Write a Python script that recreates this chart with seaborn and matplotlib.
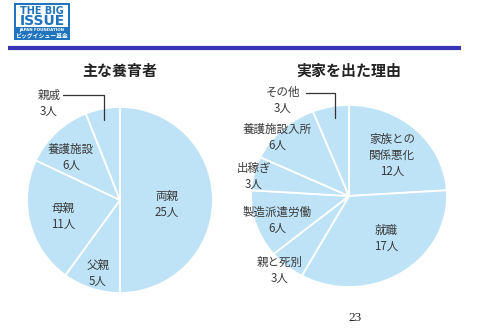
import matplotlib
matplotlib.use("Agg")
import matplotlib.pyplot as plt
import seaborn as sns
from matplotlib.patches import Rectangle

sns.set_theme(style="white")
plt.rcParams['font.family'] = ['Noto Sans CJK JP', 'DejaVu Sans']

# ---- data ----
left_title = "主な養育者"
left_labels = ["両親", "父親", "母親", "養護施設", "親戚"]
left_values = [25, 5, 11, 6, 3]

right_title = "実家を出た理由"
right_labels = ["家族との\n関係悪化", "就職", "親と死別", "製造派遣労働", "出稼ぎ", "養護施設入所", "その他"]
right_values = [12, 17, 3, 6, 3, 6, 3]

page_number = "23"

# ---- layout (pixels) ----
W, H = 480, 335
pie_color = "#BEE3F7"
text_color = "#3a3a3a"

left_label_pos = [(167, 204), (98, 273), (63, 216), (71, 157), (49, 103)]
right_label_pos = [(392, 155), (386, 238), (280, 270), (277, 220), (254, 176), (277, 137), (283, 100)]

fig = plt.figure(figsize=(W / 100, H / 100), dpi=100)
fig.patch.set_facecolor("white")


def pie_axes(cx, cy, rx, ry):
    return fig.add_axes([(cx - rx) / W, (H - (cy + ry)) / H, 2 * rx / W, 2 * ry / H])


def draw_pie(ax, values):
    ax.pie(values, startangle=90, counterclock=False,
           colors=[pie_color] * len(values),
           wedgeprops=dict(edgecolor="white", linewidth=1.3))
    ax.set_aspect("auto")
    ax.set_xlim(-1, 1)
    ax.set_ylim(-1, 1)
    ax.axis("off")


axL = pie_axes(120, 200, 93, 93)
draw_pie(axL, left_values)
axR = pie_axes(349, 196, 98, 91)
draw_pie(axR, right_values)

ov = fig.add_axes([0, 0, 1, 1], zorder=10)
ov.patch.set_alpha(0)
ov.set_xlim(0, W)
ov.set_ylim(H, 0)
ov.axis("off")

# titles
ov.text(120, 71, left_title, ha="center", va="center", fontsize=10.8,
        fontweight="bold", color="#222222")
ov.text(349, 71, right_title, ha="center", va="center", fontsize=10.8,
        fontweight="bold", color="#222222")

# labels
for lab, val, (x, y) in zip(left_labels, left_values, left_label_pos):
    ov.text(x, y, f"{lab}\n{val}人", ha="center", va="center", fontsize=8.3,
            color=text_color, linespacing=1.3)
for lab, val, (x, y) in zip(right_labels, right_values, right_label_pos):
    ov.text(x, y, f"{lab}\n{val}人", ha="center", va="center", fontsize=8.3,
            color=text_color, linespacing=1.3)

# leader lines
ov.plot([63, 104, 104], [95, 95, 120], color="#333333", lw=0.9)
ov.plot([306, 335, 335], [93, 93, 118], color="#333333", lw=0.9)

# header line
ov.plot([8, 461], [48, 48], color="#3535B5", lw=3, solid_capstyle="butt")

# logo
ov.add_patch(Rectangle((14, 3), 56, 37, facecolor="#1F74BD", edgecolor="none"))
ov.add_patch(Rectangle((16, 5), 52, 22, facecolor="white", edgecolor="none"))
ov.text(42, 10.5, "THE BIG", ha="center", va="center", fontsize=7, fontweight="heavy",
        color="#1F74BD", family="DejaVu Sans")
ov.text(42, 21, "ISSUE", ha="center", va="center", fontsize=10, fontweight="heavy",
        color="#1F74BD", family="DejaVu Sans")
ov.text(42, 29.5, "JAPAN FOUNDATION", ha="center", va="center", fontsize=2.9,
        fontweight="bold", color="white", family="DejaVu Sans")
ov.text(42, 35.5, "ビッグイシュー基金", ha="center", va="center", fontsize=4.2,
        fontweight="bold", color="white")

# page number
ov.text(355, 318, page_number, ha="center", va="center", fontsize=9.5,
        color="#222222", family="Liberation Serif")

fig.savefig("out.png", dpi=100, facecolor="white")
